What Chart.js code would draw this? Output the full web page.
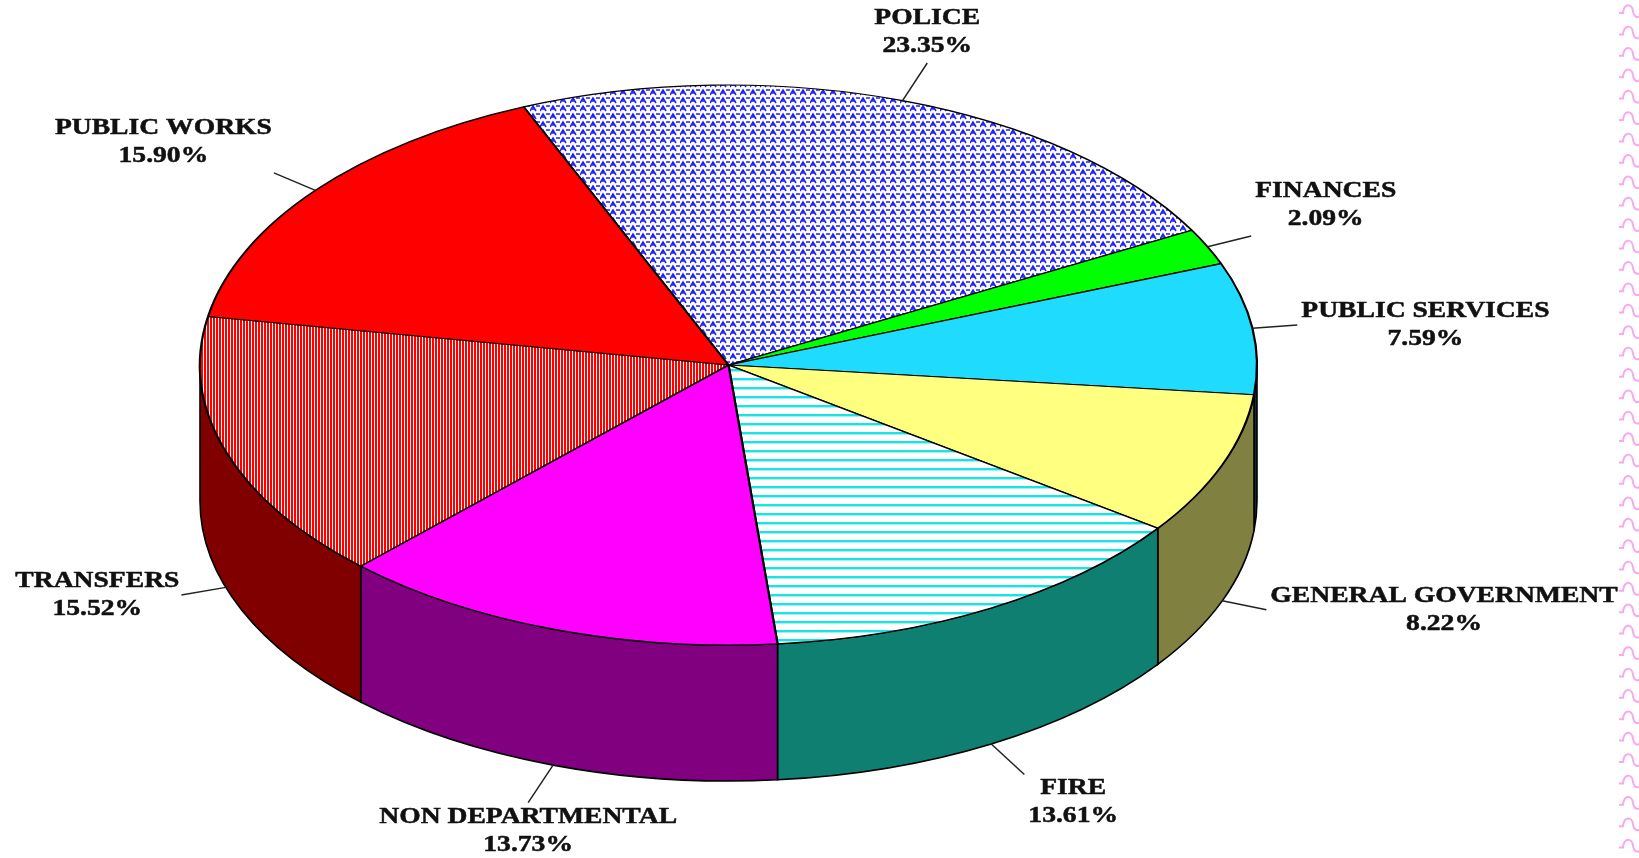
<!DOCTYPE html>
<html>
<head>
<meta charset="utf-8">
<title>Gastos por departamento</title>
<script src="https://cdn.jsdelivr.net/npm/chart.js@4.4.0/dist/chart.umd.min.js"></script>
<style>
  html, body { margin: 0; padding: 0; background: #fff; }
  #grafico { display: block; }
</style>
</head>
<body>
<canvas id="grafico" width="1639" height="858"></canvas>
<script>
// Datos (porcentaje por departamento)
const departamentos = ['POLICE', 'FINANCES', 'PUBLIC SERVICES', 'GENERAL GOVERNMENT', 'FIRE', 'NON DEPARTMENTAL', 'TRANSFERS', 'PUBLIC WORKS'];
const porcentajes = [23.35, 2.09, 7.59, 8.22, 13.61, 13.73, 15.52, 15.90];

let ctx = document.getElementById('grafico').getContext('2d');

// Geometria de la tarta "3D" (elipse superior + grosor)
const elipse = { cx: 728.5, cy: 365, rx: 528.5, ry: 280, alto: 136 };
const ESTIRAR = 1.2; // el texto original es mas ancho

function crearPatron(ancho, alto, dibujar) {
    const c = document.createElement('canvas');
    c.width = ancho;
    c.height = alto;
    const g = c.getContext('2d');
    g.fillStyle = '#ffffff';
    g.fillRect(0, 0, ancho, alto);
    dibujar(g);
    return ctx.createPattern(c, 'repeat');
}

const patronPolicia = crearPatron(10, 8, g => {
    g.strokeStyle = '#1f1fff';
    g.lineWidth = 1.6;
    g.beginPath();
    g.moveTo(0, 7); g.lineTo(3, 2); g.lineTo(6, 7);
    g.moveTo(2, 5); g.lineTo(5, 5);
    g.moveTo(6, 2); g.lineTo(10, 2);
    g.stroke();
});
const patronBomberos = crearPatron(4, 9, g => {
    g.fillStyle = '#19e3e3';
    g.fillRect(0, 0, 4, 2);
    g.fillStyle = '#9af2f2';
    g.fillRect(0, 2, 4, 1);
});
const patronTransfer = crearPatron(3, 4, g => {
    g.fillStyle = '#ff0000';
    g.fillRect(0, 0, 2, 4);
});
const patrones = [patronPolicia, patronBomberos, patronTransfer];

const coloresTapa = [patronPolicia, '#00ff00', '#1fdcff', '#ffff80', patronBomberos, '#ff00ff', patronTransfer, '#ff0000'];
const coloresLado = ['#1a1a80', '#008000', '#0a2e38', '#808040', '#0e7f70', '#800080', '#800000', '#800000'];

// Borde rosado ondulado a la derecha
function dibujarBorde(chart) {
    const c = chart.ctx;
    c.save();
    c.strokeStyle = '#f7a8ef';
    c.lineWidth = 2;
    for (let y = 2; y < 870; y += 21.4) {
        c.beginPath();
        c.moveTo(1619, y + 11);
        c.lineTo(1623, y + 11);
        c.bezierCurveTo(1624, y + 1, 1632, y + 1, 1633, y + 9);
        c.bezierCurveTo(1634, y + 16, 1638, y + 16, 1641, y + 13);
        c.stroke();
    }
    c.restore();
}

// Paredes laterales de las porciones delanteras
function dibujarLados(chart) {
    const meta = chart.getDatasetMeta(0);
    const { cx, cy, rx, ry, alto } = elipse;
    const c = chart.ctx;
    c.save();
    meta.data.forEach((arco, i) => {
        [-2 * Math.PI, 0, 2 * Math.PI].forEach(k => {
            const a1 = Math.max(arco.startAngle, k);
            const a2 = Math.min(arco.endAngle, k + Math.PI);
            if (a2 <= a1) return;
            c.beginPath();
            c.ellipse(cx, cy, rx, ry, 0, a1 - k, a2 - k);
            c.lineTo(cx + rx * Math.cos(a2), cy + ry * Math.sin(a2) + alto);
            c.ellipse(cx, cy + alto, rx, ry, 0, a2 - k, a1 - k, true);
            c.closePath();
            c.fillStyle = coloresLado[i];
            c.fill();
            c.strokeStyle = '#000';
            c.lineWidth = 1.6;
            c.stroke();
        });
    });
    c.restore();
}

// Etiquetas con linea guia
function dibujarEtiquetas(chart) {
    const meta = chart.getDatasetMeta(0);
    const { cx, cy, rx, ry, alto } = elipse;
    const c = chart.ctx;
    c.save();
    c.font = 'bold 23px "Liberation Serif", "Times New Roman", serif';
    c.textAlign = 'center';
    c.textBaseline = 'middle';
    meta.data.forEach((arco, i) => {
        const m = (arco.startAngle + arco.endAngle) / 2;
        const ex = rx * Math.cos(m), ey = ry * Math.sin(m);
        const largo = Math.hypot(ex, ey);
        const nx = ex / largo, ny = ey / largo;
        const x0 = cx + ex;
        const y0 = cy + ey + (Math.sin(m) > 0 ? alto : 0);
        const x1 = x0 + nx * 45, y1 = y0 + ny * 45;

        c.strokeStyle = '#222';
        c.lineWidth = 1.5;
        c.beginPath();
        c.moveTo(x0, y0);
        c.lineTo(x1, y1);
        c.stroke();

        const lineas = [departamentos[i], porcentajes[i].toFixed(2) + '%'];
        const anchoTexto = Math.max(...lineas.map(t => c.measureText(t).width)) * ESTIRAR;
        let tx = x1;
        if (nx > 0.7) tx = x1 + anchoTexto / 2 + 4;
        else if (nx < -0.7) tx = x1 - anchoTexto / 2 - 2;
        let ty = y1;
        if (ny < -0.2) ty = y1 - 31;
        else if (ny > 0.5) ty = y1 + 28;

        c.fillStyle = '#111';
        c.strokeStyle = '#111';
        c.lineWidth = 0.5;
        lineas.forEach((t, j) => {
            c.save();
            c.translate(tx, ty - 14 + j * 28);
            c.scale(ESTIRAR, 1);
            c.fillText(t, 0, 0);
            c.strokeText(t, 0, 0);
            c.restore();
        });
    });
    c.restore();
}

const tarta3D = {
    id: 'tarta3D',
    beforeDraw(chart) {
        dibujarBorde(chart);
    },
    beforeDatasetsDraw(chart) {
        dibujarLados(chart);
        const arco = chart.getDatasetMeta(0).data[0];
        const { cx, cy, rx, ry } = elipse;
        const c = chart.ctx;
        c.save();
        c.translate(cx, cy);
        c.scale(rx / arco.outerRadius, ry / arco.outerRadius);
        c.translate(-arco.x, -arco.y);
        // los patrones se mantienen alineados a pixeles de pantalla
        const inv = c.getTransform().inverse();
        patrones.forEach(p => p.setTransform(inv));
    },
    afterDatasetsDraw(chart) {
        chart.ctx.restore();
        dibujarEtiquetas(chart);
    }
};

let grafico = new Chart(ctx, {
    type: 'pie',
    data: {
        labels: departamentos,
        datasets: [{
            data: porcentajes,
            backgroundColor: coloresTapa,
            borderColor: '#000000',
            borderWidth: 1.8,
            hoverOffset: 0,
            clip: false
        }]
    },
    options: {
        responsive: false,
        devicePixelRatio: 1,
        animation: false,
        events: [],
        rotation: -22.8,
        layout: { padding: 0 },
        plugins: {
            legend: { display: false },
            tooltip: { enabled: false }
        }
    },
    plugins: [tarta3D]
});
</script>
</body>
</html>
